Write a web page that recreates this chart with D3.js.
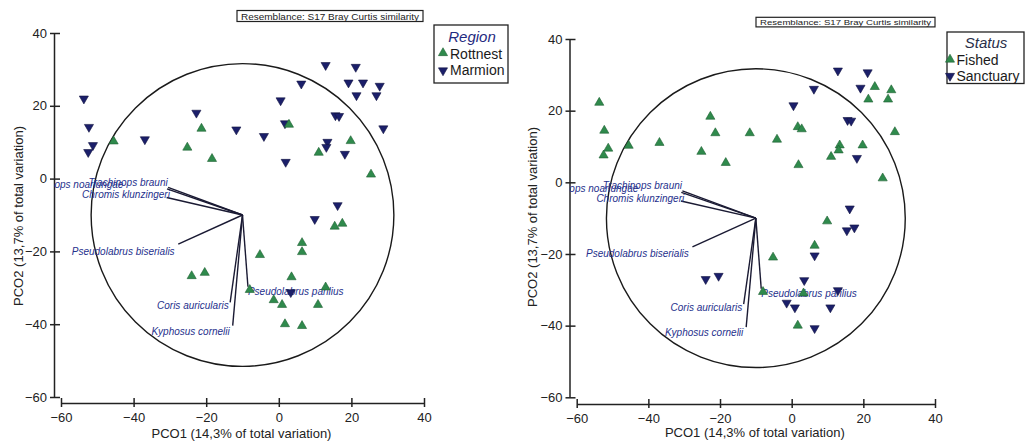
<!DOCTYPE html>
<html>
<head>
<meta charset="utf-8">
<script src="https://cdn.jsdelivr.net/npm/d3@7"></script>
<style>
  html, body { margin: 0; padding: 0; background: #fff; }
  svg { display: block; font-family: Arial, "Liberation Sans", sans-serif; }
</style>
</head>
<body>
<svg id="chart" width="1025" height="443"></svg>
<script>
// ---------- DATA ----------
const tickValues = [-60, -40, -20, 0, 20, 40];
const xLabel = "PCO1 (14,3% of total variation)";
const yLabel = "PCO2 (13,7% of total variation)";
const resemblanceText = "Resemblance: S17 Bray Curtis similarity";

// Sample scores (same ordination in both panels)
const pcoX = [-53.7, -52.3, -51.2, -52.5, -45.5, -36.9, -22.7, -21.3, -25.2, -18.4, -11.7,
  12.9, 21.2, 6.2, 19.2, 23.2, 27.8, 21.4, 26.9, 0.5, 15.6, 16.6, 1.7, 2.8, 28.8, -4.1,
  19.8, 13.4, 13.1, 11.0, 18.2, 1.9, 25.4, 16.2, 9.9, 15.4, 17.5, 6.4, 6.4, -5.2, 3.5,
  3.3, 12.9, -8.0, -1.4, 0.9, 10.8, 1.7, 6.4, -24.0, -20.4];
const pcoY = [22.1, 14.3, 9.3, 7.4, 10.1, 10.9, 18.2, 13.6, 8.4, 5.3, 13.6,
  31.3, 30.8, 26.2, 26.5, 26.5, 25.6, 23.0, 23.0, 21.6, 17.5, 17.3, 15.3, 14.7, 13.9, 11.8,
  10.2, 10.2, 8.8, 7.0, 6.9, 4.7, 1.0, -7.2, -11.0, -13.3, -12.5, -17.8, -20.3, -21.1, -27.2,
  -31.1, -30.0, -30.7, -33.5, -34.8, -34.8, -40.1, -40.6, -26.9, -26.0];
const region = ["Marmion","Marmion","Marmion","Marmion","Rottnest","Marmion","Marmion","Rottnest","Rottnest","Rottnest","Marmion",
  "Marmion","Marmion","Marmion","Marmion","Marmion","Marmion","Marmion","Marmion","Marmion","Marmion","Marmion","Marmion","Rottnest","Marmion","Marmion",
  "Rottnest","Marmion","Marmion","Rottnest","Marmion","Marmion","Rottnest","Marmion","Marmion","Rottnest","Rottnest","Rottnest","Rottnest","Rottnest","Rottnest",
  "Marmion","Rottnest","Rottnest","Rottnest","Rottnest","Rottnest","Rottnest","Rottnest","Rottnest","Rottnest"];
const status = ["Fished","Fished","Fished","Fished","Fished","Fished","Fished","Fished","Fished","Fished","Fished",
  "Sanctuary","Sanctuary","Sanctuary","Sanctuary","Fished","Fished","Fished","Fished","Sanctuary","Sanctuary","Sanctuary","Fished","Fished","Fished","Fished",
  "Fished","Fished","Fished","Fished","Sanctuary","Fished","Fished","Sanctuary","Fished","Sanctuary","Sanctuary","Fished","Sanctuary","Fished","Sanctuary",
  "Fished","Sanctuary","Fished","Sanctuary","Sanctuary","Sanctuary","Fished","Sanctuary","Sanctuary","Sanctuary"];

// Correlation vectors (origin at circle centre)
const vectorOrigin = [-10, -10];
const circleRadius = 41.7;
const vectorNames = ["Trachinops noarlungae", "Trachinops brauni", "Chromis klunzingeri",
  "Pseudolabrus biserialis", "Coris auricularis", "Kyphosus cornelii", "Pseudolabrus parilius"];
const vectorX = [-30.8, -30.5, -30.9, -27.7, -13.4, -12.7, -8.5];
const vectorY = [-2.8, -2.4, -5.2, -18.0, -34.0, -40.4, -29.7];
const vectorLabelX = [-42.8, -30.6, -30.0, -28.7, -13.8, -13.5, -8.5];
const vectorLabelY = [-1.7, -1.0, -4.5, -19.9, -34.8, -41.9, -30.9];
const vectorLabelAnchor = ["end", "end", "end", "end", "end", "end", "start"];

const regionLevels = ["Rottnest", "Marmion"];
const statusLevels = ["Fished", "Sanctuary"];

// ---------- STYLE ----------
const GREEN = "#2f8a4c", GREEN_STROKE = "#1e5f33";
const NAVY = "#1b1f6a", NAVY_STROKE = "#10123f";
const LABEL_BLUE = "#25308c";

const svg = d3.select("#chart");

const samples = pcoX.map((x, i) => ({ x, y: pcoY[i], region: region[i], status: status[i] }));
const vectors = vectorNames.map((n, i) => ({ name: n, x: vectorX[i], y: vectorY[i],
  lx: vectorLabelX[i], ly: vectorLabelY[i], anchor: vectorLabelAnchor[i] }));

const upTri = d3.symbol().type(d3.symbolTriangle).size(36)();

function drawPanel(cfg) {
  const g = svg.append("g");
  const x = d3.scaleLinear().domain([-60, 40]).range(cfg.xr);
  const y = d3.scaleLinear().domain([-60, 40]).range(cfg.yr);

  // Y axis
  const yAx = g.append("g")
    .attr("transform", `translate(${cfg.yAxisX},0)`)
    .call(d3.axisLeft(y).tickValues(tickValues).tickSizeInner(4).tickSizeOuter(0).tickPadding(3));
  yAx.select(".domain").attr("stroke", "#222").attr("stroke-width", 1.5);
  yAx.selectAll(".tick line").attr("x1", 6).attr("x2", -4).attr("stroke", "#222").attr("stroke-width", 1.5);
  yAx.selectAll(".tick text").attr("font-size", 13).attr("fill", "#222");

  // X axis
  const xAx = g.append("g")
    .attr("transform", `translate(0,${cfg.xAxisY})`)
    .call(d3.axisBottom(x).tickValues(tickValues).tickSizeInner(4).tickSizeOuter(0).tickPadding(6));
  xAx.select(".domain").attr("stroke", "#222").attr("stroke-width", 1.5);
  xAx.selectAll(".tick line").attr("y1", -5).attr("y2", 4).attr("stroke", "#222").attr("stroke-width", 1.5);
  xAx.selectAll(".tick text").attr("font-size", 13).attr("fill", "#222");

  // Axis titles
  g.append("text")
    .attr("x", (cfg.xr[0] + cfg.xr[1]) / 2 - 1)
    .attr("y", cfg.xLabelY)
    .attr("text-anchor", "middle")
    .attr("dominant-baseline", "central")
    .attr("font-size", 13).attr("fill", "#222")
    .text(xLabel);
  g.append("text")
    .attr("transform", `translate(${cfg.yLabelX},${cfg.yLabelCY}) rotate(-90)`)
    .attr("text-anchor", "middle")
    .attr("dominant-baseline", "central")
    .attr("font-size", 13).attr("fill", "#222")
    .text(yLabel);

  // Circle
  const rPx = x(vectorOrigin[0] + circleRadius) - x(vectorOrigin[0]);
  g.append("circle")
    .attr("cx", x(vectorOrigin[0])).attr("cy", y(vectorOrigin[1]))
    .attr("r", rPx)
    .attr("fill", "none").attr("stroke", "#1a1a1a").attr("stroke-width", 1.4);

  // Vectors
  g.selectAll(null).data(vectors).enter().append("line")
    .attr("x1", x(vectorOrigin[0])).attr("y1", y(vectorOrigin[1]))
    .attr("x2", d => x(d.x)).attr("y2", d => y(d.y))
    .attr("stroke", "#1a1a33").attr("stroke-width", 1.4);

  // Vector labels (clipped at the y axis)
  const clipId = "clip" + cfg.id;
  g.append("clipPath").attr("id", clipId)
    .append("rect").attr("x", cfg.yAxisX).attr("y", 0).attr("width", 1000).attr("height", 443);
  g.append("g").attr("clip-path", `url(#${clipId})`)
    .selectAll("text").data(vectors).enter().append("text")
    .attr("x", d => x(d.lx)).attr("y", d => y(d.ly))
    .attr("text-anchor", d => d.anchor)
    .attr("dominant-baseline", "central")
    .attr("font-size", 10).attr("font-style", "italic")
    .attr("fill", LABEL_BLUE)
    .text(d => d.name);

  // Points
  const isUp = d => cfg.levels.indexOf(d[cfg.factor]) === 0;
  g.selectAll(null).data(samples).enter().append("path")
    .attr("d", upTri)
    .attr("transform", d => `translate(${x(d.x)},${y(d.y)})` + (isUp(d) ? " translate(0,-0.5)" : " rotate(180) translate(0,-0.5)"))
    .attr("fill", d => isUp(d) ? GREEN : NAVY)
    .attr("stroke", d => isUp(d) ? GREEN_STROKE : NAVY_STROKE)
    .attr("stroke-width", 0.6);

  // Resemblance box
  const tb = cfg.titleBox;
  g.append("rect").attr("x", tb[0]).attr("y", tb[1]).attr("width", tb[2]).attr("height", tb[3])
    .attr("fill", "#fff").attr("stroke", "#222").attr("stroke-width", 1.2);
  g.append("text")
    .attr("x", tb[0] + 4).attr("y", tb[1] + tb[3] / 2 + 0.5)
    .attr("dominant-baseline", "central")
    .attr("font-size", cfg.titleFont).attr("fill", "#222")
    .attr("textLength", tb[2] - 8).attr("lengthAdjust", "spacingAndGlyphs")
    .text(resemblanceText);

  // Legend
  const lb = cfg.legendBox;
  g.append("rect").attr("x", lb[0]).attr("y", lb[1]).attr("width", lb[2]).attr("height", lb[3])
    .attr("fill", "#fff").attr("stroke", "#222").attr("stroke-width", 1.3);
  g.append("text")
    .attr("x", cfg.legendTitleX).attr("y", cfg.legendTitleY)
    .attr("text-anchor", "middle").attr("dominant-baseline", "central")
    .attr("font-size", 15).attr("font-style", "italic").attr("fill", cfg.legendTitleColor)
    .text(cfg.legendTitle);
  cfg.levels.forEach((lev, i) => {
    const yy = cfg.legendItemY[i];
    g.append("path").attr("d", upTri)
      .attr("transform", `translate(${cfg.legendSymX},${yy})` + (i === 0 ? " translate(0,-0.5)" : " rotate(180) translate(0,-0.5)"))
      .attr("fill", i === 0 ? GREEN : NAVY)
      .attr("stroke", i === 0 ? GREEN_STROKE : NAVY_STROKE).attr("stroke-width", 0.6);
    g.append("text")
      .attr("x", cfg.legendTextX).attr("y", yy)
      .attr("dominant-baseline", "central")
      .attr("font-size", 14).attr("fill", "#1a1a1a")
      .text(lev);
  });
}

drawPanel({
  id: "L", xr: [61, 424], yr: [397, 33], yAxisX: 54, xAxisY: 403,
  xLabelY: 433, yLabelX: 18, yLabelCY: 216,
  titleBox: [237, 10.5, 186, 11], titleFont: 9,
  legendBox: [434, 25, 74, 58], legendTitle: "Region", legendTitleColor: "#1f2a80",
  legendTitleX: 472, legendTitleY: 36, legendItemY: [53.5, 70], legendSymX: 443, legendTextX: 450,
  factor: "region", levels: regionLevels
});

drawPanel({
  id: "R", xr: [576.7, 935], yr: [397.3, 39], yAxisX: 569.5, xAxisY: 404,
  xLabelY: 432.5, yLabelX: 532, yLabelCY: 217,
  titleBox: [756, 17.3, 179, 9.6], titleFont: 8,
  legendBox: [947, 32, 77, 51.5], legendTitle: "Status", legendTitleColor: "#2a2f4a",
  legendTitleX: 986, legendTitleY: 42, legendItemY: [60, 75.5], legendSymX: 950, legendTextX: 956.5,
  factor: "status", levels: statusLevels
});
</script>
</body>
</html>
